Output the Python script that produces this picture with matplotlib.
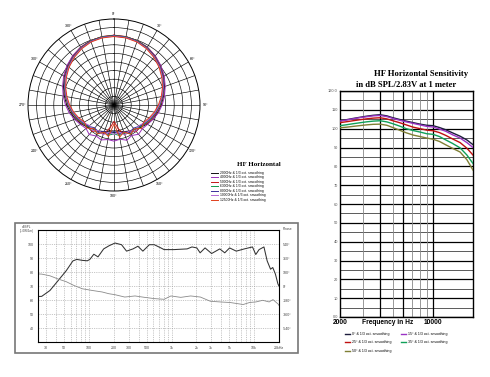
import numpy as np
import matplotlib
matplotlib.use("Agg")
import matplotlib.pyplot as plt
from matplotlib.patches import Rectangle

plt.rcParams['font.family'] = ['Liberation Sans', 'DejaVu Sans']
SERIF = ['Liberation Serif', 'DejaVu Serif']

# ---------------- polar plot data (dB, 0..360 deg every 10 deg) ----------------
polar_angles = list(range(0, 370, 10))
polar_labels = ["2000Hz & 1/3 oct. smoothing", "4000Hz & 1/3 oct. smoothing",
                "5000Hz & 1/3 oct. smoothing", "6300Hz & 1/3 oct. smoothing",
                "8000Hz & 1/3 oct. smoothing", "10000Hz & 1/3 oct. smoothing",
                "12500Hz & 1/3 oct. smoothing"]
polar_colors = ["#111111", "#9a2fb8", "#c41818", "#129a4a", "#3a2f9a", "#b36ad6", "#e0401c"]
hf_2000 = [0.5, 0.3, -0.2, -1.2, -2.8, -4.6, -6.6, -8.7, -10.7, -12.5, -14.2, -16.0, -17.8,
           -19.8, -21.5, -22.5, -23.5, -24.5, -24.0, -24.5, -23.5, -22.6, -21.6, -19.9, -18.0,
           -16.1, -14.3, -12.5, -10.7, -8.7, -6.6, -4.6, -2.8, -1.2, -0.2, 0.3, 0.5]
hf_4000 = [0.3, 0.1, -0.4, -1.3, -2.7, -4.4, -6.3, -8.3, -10.2, -12.0, -13.8, -15.8, -17.5,
           -18.5, -17.8, -19.5, -18.2, -19.8, -19.0, -19.6, -18.4, -19.2, -17.6, -18.8, -17.4,
           -15.6, -13.6, -11.8, -10.0, -8.2, -6.2, -4.3, -2.6, -1.2, -0.3, 0.1, 0.3]
hf_5000 = [0.6, 0.4, -0.3, -1.5, -3.1, -5.0, -7.0, -9.2, -11.2, -13.0, -14.8, -16.6, -18.2,
           -20.8, -19.8, -22.4, -21.5, -26.0, -30.5, -26.5, -21.8, -22.6, -20.0, -21.0, -18.4,
           -16.8, -15.0, -13.2, -11.3, -9.3, -7.1, -5.1, -3.2, -1.5, -0.3, 0.4, 0.6]
hf_6300 = [0.4, 0.2, -0.4, -1.6, -3.3, -5.2, -7.2, -9.3, -11.4, -13.3, -15.2, -17.0, -18.8,
           -20.2, -21.4, -20.6, -22.8, -22.0, -23.2, -22.2, -23.0, -20.8, -21.6, -20.4, -18.9,
           -17.1, -15.3, -13.4, -11.5, -9.4, -7.3, -5.3, -3.4, -1.7, -0.4, 0.2, 0.4]
hf_8000 = [0.2, 0.0, -0.6, -1.8, -3.4, -5.3, -7.3, -9.4, -11.5, -13.5, -15.4, -17.3, -19.2,
           -20.8, -22.4, -21.5, -23.6, -22.8, -24.6, -23.0, -23.8, -21.6, -22.6, -20.8, -19.3,
           -17.5, -15.6, -13.6, -11.6, -9.5, -7.4, -5.4, -3.5, -1.9, -0.6, 0.0, 0.2]
hf_10000 = [0.0, -0.2, -0.8, -2.0, -3.6, -5.5, -7.5, -9.6, -11.7, -13.7, -15.7, -17.6, -19.5,
            -21.2, -20.2, -22.6, -21.4, -24.2, -22.8, -24.0, -21.6, -22.8, -20.6, -21.4, -19.6,
            -17.8, -15.8, -13.8, -11.8, -9.7, -7.6, -5.6, -3.7, -2.0, -0.8, -0.2, 0.0]
hf_12500 = [-0.2, -0.4, -1.0, -2.2, -3.9, -5.8, -7.9, -10.0, -12.1, -14.2, -16.2, -18.2, -20.0,
            -19.0, -21.8, -20.4, -23.4, -21.0, -29.0, -21.4, -23.2, -20.6, -22.0, -19.2, -20.2,
            -18.2, -16.2, -14.2, -12.2, -10.1, -8.0, -5.9, -4.0, -2.3, -1.0, -0.4, -0.2]
polar_series = [hf_2000, hf_4000, hf_5000, hf_6300, hf_8000, hf_10000, hf_12500]
polar_tick_angles = list(range(0, 360, 30))

# ---------------- sensitivity chart data ----------------
sens_freq = [2000, 2250, 2500, 2800, 3150, 3550, 4000, 4500, 5000, 5600, 6300, 7100,
             8000, 9000, 10000, 11200, 12500, 14000, 16000, 18000, 20000]
sens_0 = [104.2, 104.8, 105.4, 106.0, 106.6, 107.1, 107.4, 106.8, 105.8, 104.9, 104.0, 103.2,
          102.4, 101.8, 101.6, 100.6, 99.4, 97.8, 96.0, 94.0, 91.5]
sens_15 = [104.0, 104.6, 105.2, 105.8, 106.3, 106.8, 107.0, 106.4, 105.4, 104.5, 103.6, 102.8,
           102.0, 101.2, 100.9, 99.8, 98.6, 96.8, 95.0, 92.6, 90.0]
sens_25 = [103.2, 103.7, 104.2, 104.7, 105.2, 105.6, 105.8, 105.2, 104.2, 103.2, 102.0, 100.8,
           100.0, 99.2, 98.9, 97.9, 96.4, 94.6, 92.6, 89.6, 86.0]
sens_35 = [101.6, 102.1, 102.6, 103.1, 103.6, 104.0, 104.2, 103.6, 102.6, 101.4, 100.0, 99.0,
           98.2, 97.3, 97.0, 95.8, 94.0, 92.2, 89.8, 86.0, 81.5]
sens_50 = [100.5, 100.8, 101.2, 101.6, 102.0, 102.3, 102.4, 101.8, 100.6, 99.2, 97.8, 96.6,
           95.8, 95.0, 94.4, 93.2, 91.4, 89.6, 87.6, 83.5, 78.0]
sens_series = [sens_0, sens_15, sens_25, sens_35, sens_50]
sens_labels = ["0\u00b0 & 1/3 oct. smoothing", "15\u00b0 & 1/3 oct. smoothing",
               "25\u00b0 & 1/3 oct. smoothing", "35\u00b0 & 1/3 oct. smoothing",
               "50\u00b0 & 1/3 oct. smoothing"]
sens_colors = ["#1c1c3c", "#9a33c4", "#c01010", "#10a058", "#7f7f34"]
sens_vlines = [3000, 4000, 5000, 6000, 7000, 8000, 9000, 10000]
sens_vcolors = ["#888888", "#000000", "#888888", "#000000", "#888888", "#888888", "#888888", "#000000"]
sens_yticks = list(range(0, 121, 10))
sens_ylabels = ["0.0"] + [str(v) for v in range(10, 120, 10)] + ["120.0"]

# ---------------- frequency response (bottom left) ----------------
fr_freq = [24, 26.6, 33.5, 42, 52.6, 63.5, 70.7, 83, 95, 102, 114, 128, 150, 175, 206, 247,
           284, 340, 390, 448, 537, 616, 740, 810, 1066, 1540, 1764, 2020, 2213, 2540, 3050,
           3830, 4400, 5040, 6070, 7600, 9540, 10460, 11470, 13140, 14380, 15800, 16800,
           18100, 19400, 20000]
fr_spl = [62.5, 62.6, 66.8, 73.8, 80.8, 87.9, 89.0, 88.3, 88.0, 89.0, 92.7, 90.8, 96.5, 98.8,
          100.7, 99.5, 94.9, 96.5, 98.4, 94.9, 99.5, 99.5, 97.2, 96.0, 96.0, 96.5, 97.9, 97.2,
          93.7, 97.2, 93.2, 96.5, 93.7, 97.2, 94.9, 96.5, 97.9, 92.5, 96.0, 97.9, 87.9, 82.0,
          83.2, 78.5, 71.5, 70.0]
ph_freq = [24, 26.6, 33.5, 42, 52.6, 66, 83, 110, 144, 173, 206, 270, 360, 470, 616, 810, 980,
           1290, 1700, 2230, 2940, 3870, 5090, 6120, 7360, 8800, 10500, 12700, 15200, 16900,
           19600, 20000]
ph_deg = [155, 153, 131, 90, 56, 5, -36, -58, -77, -99, -112, -142, -128, -146, -162, -171,
          -128, -146, -128, -142, -196, -205, -212, -225, -238, -212, -205, -184, -205, -175,
          -234, -250]
fr_xticks = [30, 50, 100, 200, 300, 500, 1000, 2000, 3000, 5000, 10000, 20000]
fr_xlabels = ["30", "50", "100", "200", "300", "500", "1k", "2k", "3k", "5k", "10k", "20kHz"]
fr_yticks = [40, 50, 60, 70, 80, 90, 100]
ph_yticks = [-540, -360, -180, 0, 180, 360, 540]
ph_ylabels = ["-540\u00b0", "-360\u00b0", "-180\u00b0", "0\u00b0", "180\u00b0", "360\u00b0", "540\u00b0"]

W, H = 490.0, 377.0
fig = plt.figure(figsize=(4.9, 3.77), dpi=100)


def box(x0, y0, x1, y1):
    return [x0 / W, 1 - y1 / H, (x1 - x0) / W, (y1 - y0) / H]


# ---------------- polar ----------------
axp = fig.add_axes(box(28, 19, 200, 191), projection='polar')
axp.set_theta_zero_location('N')
axp.set_theta_direction(-1)
th = np.deg2rad(polar_angles)
for vals, c, lab in zip(polar_series, polar_colors, polar_labels):
    axp.plot(th, vals, color=c, lw=0.7, label=lab)
axp.set_ylim(-40, 10)
axp.set_yticks(np.arange(-35, 10, 5))
axp.set_yticklabels([])
axp.set_thetagrids(list(range(0, 360, 10)), labels=[])
for a in polar_tick_angles:
    axp.text(np.deg2rad(a), 13.0, f"{a}\u00b0", fontsize=2.6, ha='center', va='center')
axp.grid(color='k', lw=0.45)
axp.spines['polar'].set_linewidth(0.7)
axp.legend(loc='upper left', bbox_to_anchor=(209 / W, 1 - 169 / H), bbox_transform=fig.transFigure,
           fontsize=2.4, frameon=False, handlelength=2.2, labelspacing=0.15, borderpad=0,
           handletextpad=0.5)
fig.text(259 / W, 1 - 164 / H, "HF Horizontal", family=SERIF, weight='bold', fontsize=5,
         ha='center', va='center')

# ---------------- sensitivity ----------------
axr = fig.add_axes(box(340, 91, 473, 317))
axr.set_xscale('log')
axr.set_xlim(2000, 20000)
axr.set_ylim(0, 120)
for v in sens_yticks:
    axr.axhline(v, color='k', lw=0.9, zorder=1)
for v in range(5, 120, 10):
    axr.axhline(v, color='k', lw=0.45, zorder=1)
for v, c in zip(sens_vlines, sens_vcolors):
    axr.axvline(v, color=c, lw=0.9 if c == "#000000" else 0.6, zorder=1)
lines = []
for vals, c, lab in zip(sens_series, sens_colors, sens_labels):
    ln, = axr.plot(sens_freq, vals, color=c, lw=1.0, label=lab, zorder=3)
    lines.append(ln)
axr.set_yticks(sens_yticks)
axr.set_yticklabels(sens_ylabels, fontsize=2.8, color='#555555')
axr.set_xticks([2000, 10000])
axr.set_xticklabels(["2000", "10000"], fontsize=4.8, weight='bold')
axr.xaxis.set_minor_locator(matplotlib.ticker.NullLocator())
axr.tick_params(length=0, pad=1.5)
axr.text(0.36, -0.008, "Frequency in Hz", transform=axr.transAxes, fontsize=4.8, weight='bold',
         ha='center', va='top')
for s in axr.spines.values():
    s.set_linewidth(1.0)
order = [0, 2, 4, 1, 3]
axr.legend([lines[i] for i in order], [sens_labels[i] for i in order], loc='upper left',
           bbox_to_anchor=(343 / W, 1 - 330 / H), bbox_transform=fig.transFigure, ncol=2,
           fontsize=2.6, frameon=False, handlelength=1.5, columnspacing=2.5, labelspacing=1.3,
           borderpad=0, handletextpad=0.5)
fig.text(421 / W, 1 - 74 / H, "HF Horizontal Sensitivity", family=SERIF, weight='bold',
         fontsize=6.2, ha='center', va='center')
fig.text(406 / W, 1 - 85 / H, "in dB SPL/2.83V at 1 meter", family=SERIF, weight='bold',
         fontsize=6.2, ha='center', va='center')

# ---------------- frequency response / phase ----------------
fig.patches.append(Rectangle((15 / W, 1 - 353 / H), 283 / W, 130 / H, transform=fig.transFigure,
                             fill=False, ec='#777777', lw=1.2))
axf = fig.add_axes(box(38, 230, 279, 342))
axf.set_xscale('log')
axf.set_xlim(24, 20000)
axf.set_ylim(30, 110)
axf.plot(fr_freq, fr_spl, color='#333333', lw=0.75, zorder=3)
axf.set_xticks(fr_xticks)
axf.set_xticklabels(fr_xlabels, fontsize=2.6, color='#444444')
axf.xaxis.set_minor_formatter(matplotlib.ticker.NullFormatter())
axf.set_yticks(fr_yticks)
axf.set_yticklabels([str(v) for v in fr_yticks], fontsize=2.6, color='#444444')
axf.grid(which='both', axis='x', color='#999999', lw=0.4, ls=(0, (2, 2)))
axf.grid(which='major', axis='y', color='#999999', lw=0.4, ls=(0, (2, 2)))
axf.tick_params(which='both', length=0, pad=3)
for s in axf.spines.values():
    s.set_color('#666666')
    s.set_linewidth(0.6)
axph = axf.twinx()
axph.set_ylim(-720, 720)
axph.plot(ph_freq, ph_deg, color='#8a8a8a', lw=0.6, zorder=2)
axph.set_yticks(ph_yticks)
axph.set_yticklabels(ph_ylabels, fontsize=2.6, color='#444444')
axph.tick_params(length=0, pad=3)
fig.text(27 / W, 1 - 229 / H, "dBSPL\n(1.0W/1m)", fontsize=2.2, color='#444444', ha='center',
         va='center', linespacing=1.0)
fig.text(288 / W, 1 - 229 / H, "Phase", fontsize=2.4, color='#444444', ha='center', va='center')

fig.savefig("out.png", dpi=100)
